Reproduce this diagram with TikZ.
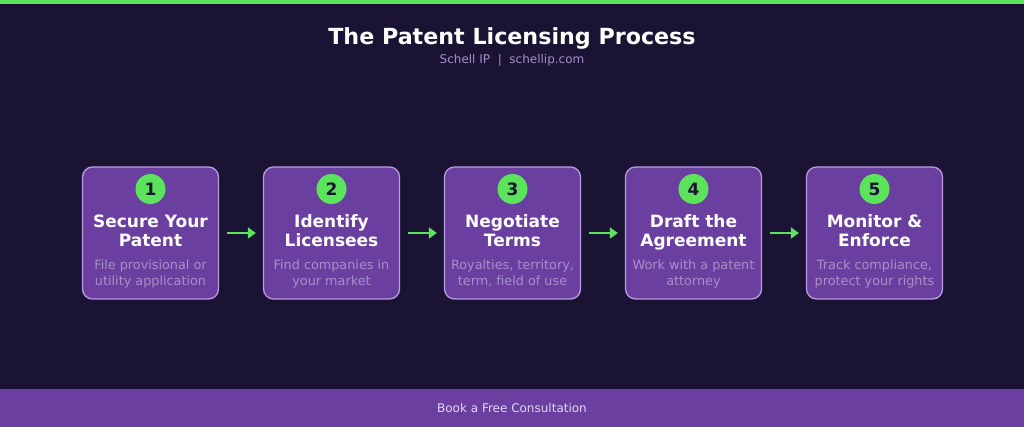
\documentclass[tikz,border=0pt]{standalone}
\usepackage{fontspec}
\setmainfont{DejaVu Sans}
\usetikzlibrary{arrows.meta}
\definecolor{bgdark}{HTML}{1A1333}
\definecolor{lime}{HTML}{5BE35B}
\definecolor{plum}{HTML}{6B3FA0}
\definecolor{lilac}{HTML}{B79CE0}
\definecolor{faded}{HTML}{A78FC8}
\definecolor{footertext}{HTML}{E3D5F5}
\tikzset{
    card/.style = {rectangle, draw=lilac, line width=1.3pt, rounded corners=10pt, fill=plum, minimum width=136pt, minimum height=132pt, inner sep=0pt},
    badge/.style = {circle, fill=lime, minimum size=30pt, inner sep=0pt, text=bgdark, font=\fontsize{17}{17}\selectfont\bfseries},
    steptitle/.style = {anchor=base, align=center, text=white, inner sep=0pt, font=\fontsize{17}{19.5}\selectfont\bfseries},
    stepnote/.style = {anchor=base, align=center, text=faded, inner sep=0pt, font=\fontsize{12.8}{16.5}\selectfont},
    flow/.style = {-{Triangle[length=8pt,width=11pt]}, line width=2.2pt, draw=lime},
}
\begin{document}
\begin{tikzpicture}[x=1pt,y=-1pt]
%
\path[fill=bgdark] (0,0) rectangle (1024,427);
\path[fill=lime] (0,0) rectangle (1024,4);
\path[fill=plum] (0,389) rectangle (1024,427);
\useasboundingbox (0,0) rectangle (1024,427);
%
\node[anchor=base, text=white, inner sep=0pt, font=\fontsize{22.2}{22}\selectfont\bfseries] at (512,45) (title) {The Patent Licensing Process};
\node[anchor=base, text=faded, inner sep=0pt, font=\fontsize{12}{12}\selectfont] at (512,64) (sub) {Schell IP\ \ |\ \ schellip.com};
\node[anchor=base, text=footertext, inner sep=0pt, font=\fontsize{12}{12}\selectfont] at (512,412) (cta) {Book a Free Consultation};
%
\node[card] at (150.5,233) (c1) {};
\node[card] at (331.5,233) (c2) {};
\node[card] at (512.5,233) (c3) {};
\node[card] at (693.5,233) (c4) {};
\node[card] at (874.5,233) (c5) {};
%
\node[badge] at (150.5,189) (b1) {1};
\node[badge] at (331.5,189) (b2) {2};
\node[badge] at (512.5,189) (b3) {3};
\node[badge] at (693.5,189) (b4) {4};
\node[badge] at (874.5,189) (b5) {5};
%
\node[steptitle] at (150.5,247) (t1) {Secure Your\\Patent};
\node[steptitle] at (331.5,247) (t2) {Identify\\Licensees};
\node[steptitle] at (512.5,247) (t3) {Negotiate\\Terms};
\node[steptitle] at (693.5,247) (t4) {Draft the\\Agreement};
\node[steptitle] at (874.5,247) (t5) {Monitor \&\\Enforce};
%
\node[stepnote] at (150.5,285.5) (n1) {File provisional or\\utility application};
\node[stepnote] at (331.5,285.5) (n2) {Find companies in\\your market};
\node[stepnote] at (512.5,285.5) (n3) {Royalties, territory,\\term, field of use};
\node[stepnote] at (693.5,285.5) (n4) {Work with a patent\\attorney};
\node[stepnote] at (874.5,285.5) (n5) {Track compliance,\\protect your rights};
%
\draw[flow] ([xshift=8pt]c1.east) -- ([xshift=-7pt]c2.west);
\draw[flow] ([xshift=8pt]c2.east) -- ([xshift=-7pt]c3.west);
\draw[flow] ([xshift=8pt]c3.east) -- ([xshift=-7pt]c4.west);
\draw[flow] ([xshift=8pt]c4.east) -- ([xshift=-7pt]c5.west);

\end{tikzpicture}
\end{document}
